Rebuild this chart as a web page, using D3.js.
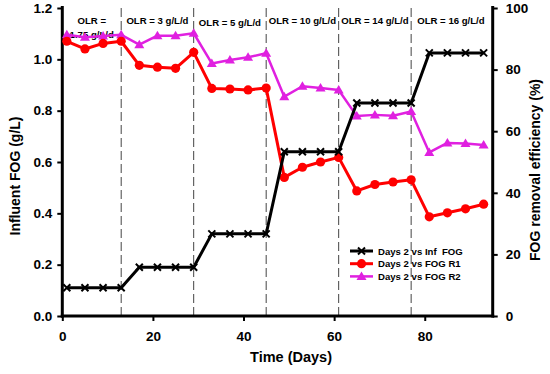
<!DOCTYPE html>
<html><head><meta charset="utf-8">
<script src="https://cdn.jsdelivr.net/npm/d3@7"></script>
<style>
body{margin:0;background:#fff;}
svg{display:block;font-family:Arial,"Liberation Sans",sans-serif;}
</style></head>
<body>
<svg id="c" width="550" height="374"></svg>
<script>
const days = [1,5,9,13,17,21,25,29,33,37,41,45,49,53,57,61,65,69,73,77,81,85,89,93];
const infFOG = [0.11,0.11,0.11,0.11,0.19,0.19,0.19,0.19,0.32,0.32,0.32,0.32,0.64,0.64,0.64,0.64,0.83,0.83,0.83,0.83,1.025,1.025,1.025,1.025];
const fogR1 = [89.2,86.7,88.5,89.2,81.4,80.8,80.4,85.6,73.9,73.7,73.4,74.0,45.0,48.3,50.0,51.5,40.6,42.7,43.5,44.2,32.2,33.5,34.8,36.3];
const fogR2 = [91.3,90.5,90.9,91.3,88.1,91.0,91.0,91.8,82.0,83.1,84.0,85.3,71.2,74.6,74.0,73.4,64.9,65.3,65.0,66.4,53.1,56.2,56.0,55.5];
const olrBreaks = [13,29,45,61,77];
const olrLabels = [["OLR =","1.75 g/L/d"],["OLR = 3 g/L/d"],["OLR = 5 g/L/d"],["OLR = 10 g/L/d"],["OLR = 14 g/L/d"],["OLR = 16 g/L/d"]];
const olrCenters = [1,17,33,49,65,81];
const xTicks = [0,20,40,60,80];
const yLeftTicks = [0,0.2,0.4,0.6,0.8,1.0,1.2];
const yRightTicks = [0,20,40,60,80,100];
const legendNames = ["Days 2 vs Inf  FOG","Days 2 vs FOG R1","Days 2 vs FOG R2"];
const colors = ["#000000","#ff0000","#e020e0"];

const L = 62.3, R = 492.7, T = 8, B = 316;
const svg = d3.select("#c");
const x = d3.scaleLinear().domain([0,95]).range([L,R]);
const yL = d3.scaleLinear().domain([0,1.2]).range([B,T]);
const yR = d3.scaleLinear().domain([0,100]).range([B,T]);

// dashed separators
svg.append("g").selectAll("line").data(olrBreaks).join("line")
  .attr("x1",d=>x(d)).attr("x2",d=>x(d)).attr("y1",T).attr("y2",B)
  .attr("stroke","#444").attr("stroke-width",1).attr("stroke-dasharray","9,4");

// OLR labels
const olrG = svg.append("g").attr("font-weight","bold").attr("font-size","9.6px").attr("text-anchor","middle");
olrLabels.forEach((lab,i)=>{
  const cx = (x(i===0?0:olrBreaks[i-1]) + x(i<olrBreaks.length?olrBreaks[i]:95))/2;
  lab.forEach((t,j)=>{
    olrG.append("text").attr("x",cx + (i===0?0:(i===5?-1:0))).attr("y",24 + j*14 + (i===2?2:0)).text(t);
  });
});

function styleAxis(g){
  g.select(".domain").attr("stroke","#000").attr("stroke-width",3);
  g.selectAll(".tick line").attr("stroke","#000").attr("stroke-width",2);
  g.selectAll("text").attr("font-size","13.5px").attr("font-weight","bold").attr("fill","#000").attr("font-family","Arial,'Liberation Sans',sans-serif");
}

const gx = svg.append("g").attr("transform",`translate(0,${B})`)
  .call(d3.axisBottom(x).tickValues(xTicks).tickFormat(d3.format("d")).tickSizeInner(5).tickSizeOuter(0).tickPadding(10));
styleAxis(gx);
const gl = svg.append("g").attr("transform",`translate(${L},0)`)
  .call(d3.axisLeft(yL).tickValues(yLeftTicks).tickFormat(d3.format(".1f")).tickSizeInner(5).tickSizeOuter(0).tickPadding(5));
styleAxis(gl);
const gr = svg.append("g").attr("transform",`translate(${R},0)`)
  .call(d3.axisRight(yR).tickValues(yRightTicks).tickFormat(d3.format("d")).tickSizeInner(5).tickSizeOuter(0).tickPadding(8));
styleAxis(gr);
gl.select(".domain").attr("d",`M0,${B+1.5}V${T-2}`);
gr.select(".domain").attr("d",`M0,${B+1.5}V${T-2}`);
gx.select(".domain").attr("d",`M${L-1.5},0H${R+1.5}`);

// axis titles
svg.append("text").attr("x",291).attr("y",362).attr("text-anchor","middle")
  .attr("font-weight","bold").attr("font-size","14.5px").text("Time (Days)");
svg.append("text").attr("transform","translate(20,176) rotate(-90)").attr("text-anchor","middle")
  .attr("font-weight","bold").attr("font-size","14px").text("Influent FOG (g/L)");
svg.append("text").attr("transform","translate(540,170) rotate(-90)").attr("text-anchor","middle")
  .attr("font-weight","bold").attr("font-size","14px").text("FOG removal efficiency (%)");

// marker helpers
function xMark(g,cx,cy){
  g.append("path").attr("d",`M${cx-3.5},${cy-3.5}L${cx+3.5},${cy+3.5}M${cx-3.5},${cy+3.5}L${cx+3.5},${cy-3.5}`)
    .attr("stroke","#000").attr("stroke-width",2).attr("fill","none");
}
function circ(g,cx,cy){ g.append("circle").attr("cx",cx).attr("cy",cy).attr("r",4.6).attr("fill",colors[1]); }
function tri(g,cx,cy){ g.append("path").attr("d",`M${cx},${cy-5}L${cx+5},${cy+3.5}L${cx-5},${cy+3.5}Z`).attr("fill",colors[2]); }

const series = [
  {vals:infFOG, y:yL, col:colors[0], w:3, mk:xMark},
  {vals:fogR1, y:yR, col:colors[1], w:3, mk:circ},
  {vals:fogR2, y:yR, col:colors[2], w:2.5, mk:tri}
];
// draw R2, R1, then black on top
[2,1,0].forEach(i=>{
  const s = series[i];
  const g = svg.append("g");
  const line = d3.line().x((d,k)=>x(days[k])).y(d=>s.y(d));
  g.append("path").datum(s.vals).attr("d",line).attr("fill","none").attr("stroke",s.col).attr("stroke-width",s.w).attr("stroke-linejoin","round");
  s.vals.forEach((v,k)=>s.mk(g,x(days[k]),s.y(v)));
});

// legend
const lg = svg.append("g");
legendNames.forEach((n,i)=>{
  const yy = 251 + i*12.7;
  const s = series[i];
  lg.append("line").attr("x1",350).attr("x2",373).attr("y1",yy).attr("y2",yy).attr("stroke",s.col).attr("stroke-width",s.w);
  s.mk(lg,361.5,yy);
  lg.append("text").attr("x",378).attr("y",yy+3.6).attr("font-size","9.6px").attr("font-weight","bold").attr("xml:space","preserve").text(n);
});
</script>
</body></html>
